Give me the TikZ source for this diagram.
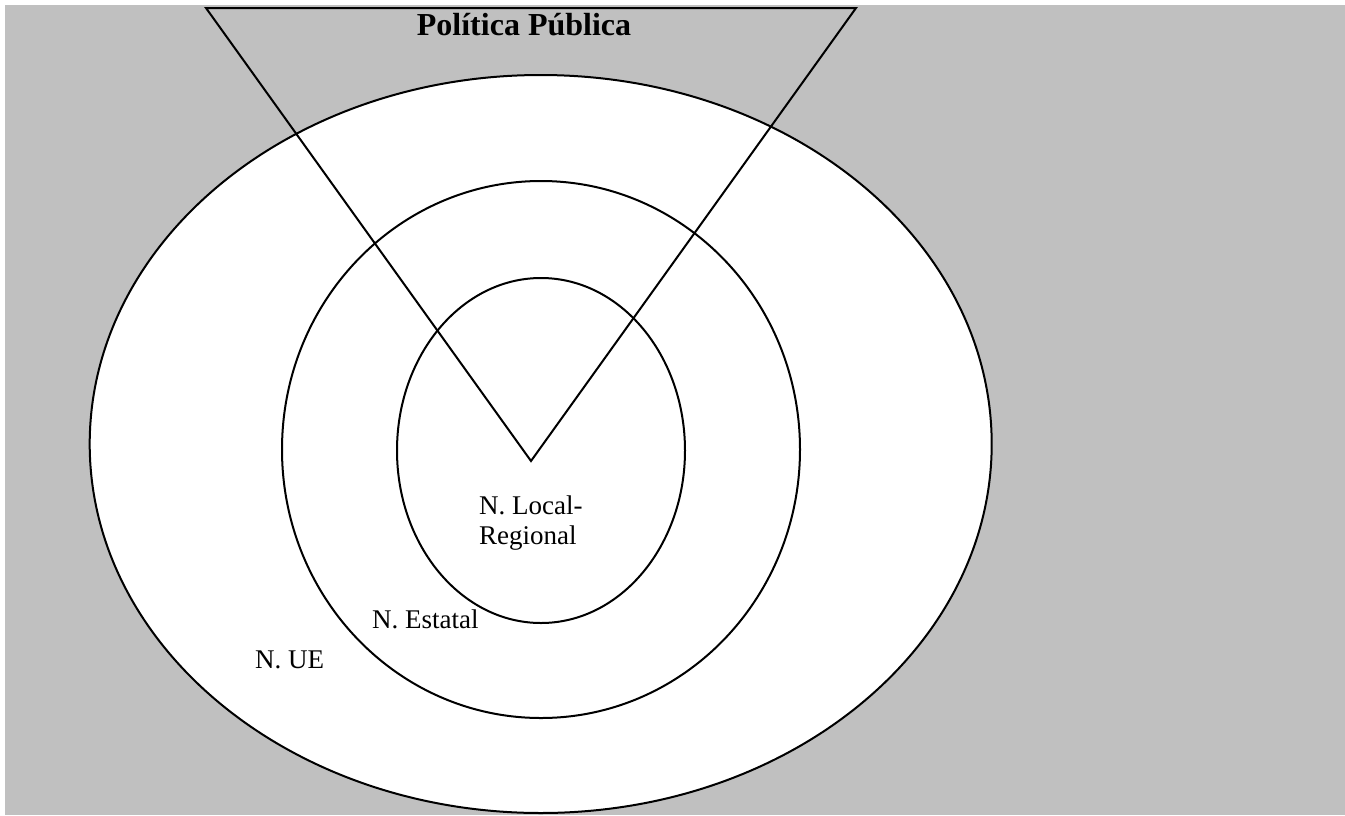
\documentclass[tikz,border=0pt]{standalone}
\usepackage{fontspec}
\setmainfont{Liberation Serif}
\definecolor{bggray}{HTML}{C0C0C0}
\tikzset{
  ring/.style={draw=black, line width=2pt, fill=white},
  edge/.style={draw=black, line width=2pt, line join=miter},
  lab/.style={inner sep=0pt, anchor=base west, font=\fontsize{27}{30}\selectfont, align=left},
  title/.style={inner sep=0pt, anchor=base, font=\fontsize{32}{38}\selectfont\bfseries}
}
\begin{document}
\begin{tikzpicture}[x=1pt,y=-1pt]
\useasboundingbox (0,0) rectangle (1345,815);
\fill[bggray] (5,5) rectangle (1345,815);
\draw[ring] (540.7,444) ellipse [x radius=451, y radius=369];
\draw[ring] (541,449.5) ellipse [x radius=259, y radius=268.5];
\draw[ring] (541,450.5) ellipse [x radius=144, y radius=172.5];
\coordinate (tl) at (206,8);
\coordinate (tr) at (856,8);
\coordinate (apex) at (531,461);
\draw[edge] (tl) -- (tr) -- (apex) -- cycle;
\node[title] (pp) at (524,35) {Política Pública};
\node[lab] (loc) at (479,544) {N. Local-\\Regional};
\node[lab] (est) at (372,628) {N. Estatal};
\node[lab] (ue) at (255,668) {N. UE};
\end{tikzpicture}
\end{document}
